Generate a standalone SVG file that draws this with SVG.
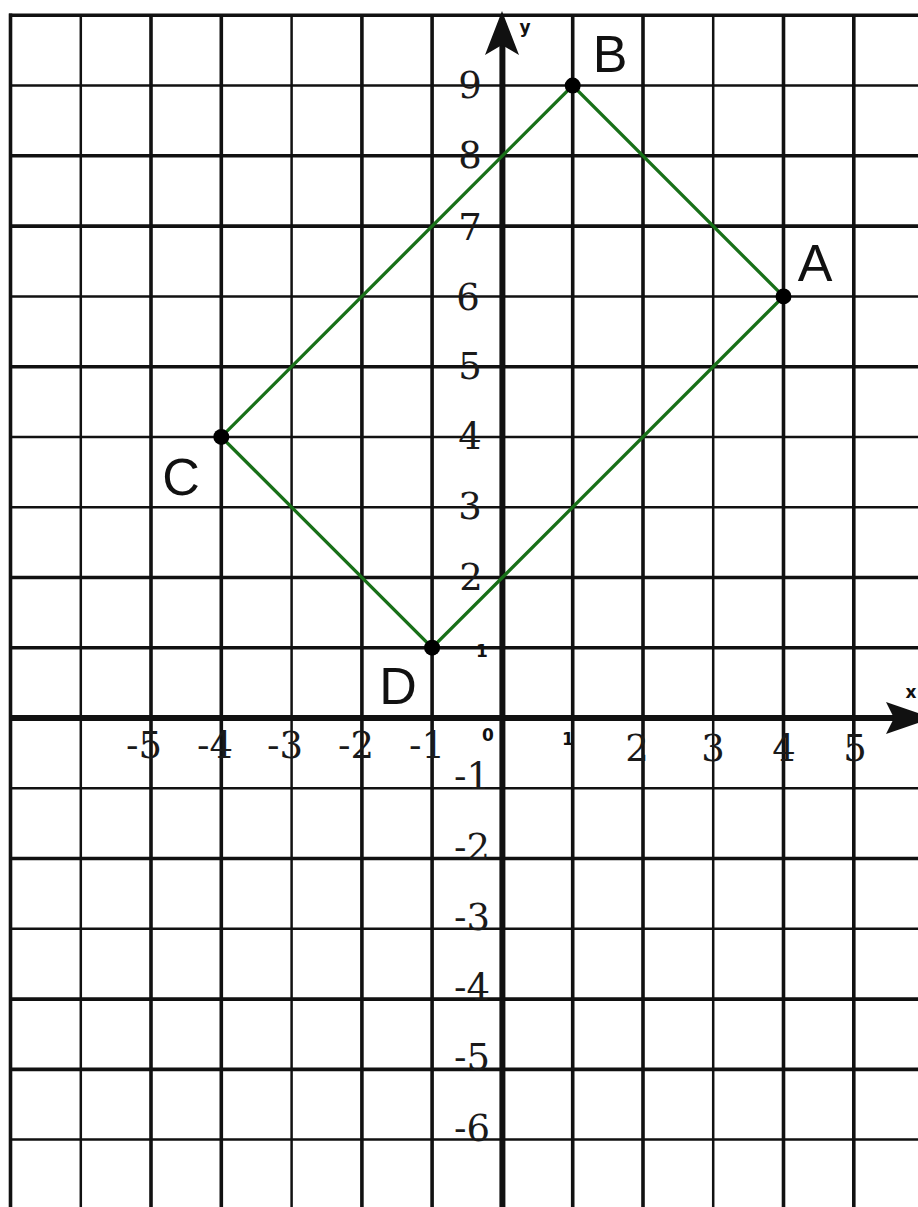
<svg xmlns="http://www.w3.org/2000/svg" width="918" height="1207" viewBox="0 0 918 1207">
<style>
.g{stroke:#111;stroke-width:3.6;fill:none}
.t{stroke:#111;stroke-width:2.5;fill:none}
.ax{stroke:#111;stroke-width:6;fill:none}
.num{font-family:"DejaVu Serif","Liberation Serif",serif;font-size:37px;fill:#1a1a1a}
.sm{font-family:"DejaVu Sans","Liberation Sans",sans-serif;font-size:17px;font-weight:bold;fill:#111}
.pl{font-family:"Liberation Sans","DejaVu Sans",sans-serif;font-size:52px;fill:#111;text-anchor:middle}
.fig{stroke:#187018;stroke-width:3.3;fill:none;stroke-linejoin:miter}
</style>
<rect width="918" height="1207" fill="#fff"/>
<g id="grid">
<line class="g" x1="10.5" y1="13.5" x2="10.5" y2="1207"/>
<line class="t" x1="80.8" y1="15" x2="80.8" y2="1207"/>
<line class="g" x1="151" y1="15" x2="151" y2="1207"/>
<line class="g" x1="221.3" y1="15" x2="221.3" y2="1207"/>
<line class="t" x1="291.6" y1="15" x2="291.6" y2="1207"/>
<line class="g" x1="361.9" y1="15" x2="361.9" y2="1207"/>
<line class="g" x1="432.1" y1="15" x2="432.1" y2="1207"/>
<line class="g" x1="572.7" y1="15" x2="572.7" y2="1207"/>
<line class="g" x1="643" y1="15" x2="643" y2="1207"/>
<line class="t" x1="713.2" y1="15" x2="713.2" y2="1207"/>
<line class="g" x1="783.5" y1="15" x2="783.5" y2="1207"/>
<line class="g" x1="853.8" y1="15" x2="853.8" y2="1207"/>
<line class="g" x1="9" y1="15.3" x2="918" y2="15.3"/>
<line class="t" x1="10" y1="85.6" x2="918" y2="85.6"/>
<line class="g" x1="10" y1="155.8" x2="918" y2="155.8"/>
<line class="g" x1="10" y1="226.1" x2="918" y2="226.1"/>
<line class="t" x1="10" y1="296.4" x2="918" y2="296.4"/>
<line class="g" x1="10" y1="366.7" x2="918" y2="366.7"/>
<line class="t" x1="10" y1="436.9" x2="918" y2="436.9"/>
<line class="t" x1="10" y1="507.2" x2="918" y2="507.2"/>
<line class="g" x1="10" y1="577.5" x2="918" y2="577.5"/>
<line class="g" x1="10" y1="647.7" x2="918" y2="647.7"/>
<line class="t" x1="10" y1="788.3" x2="918" y2="788.3"/>
<line class="g" x1="10" y1="858.5" x2="918" y2="858.5"/>
<line class="t" x1="10" y1="928.8" x2="918" y2="928.8"/>
<line class="g" x1="10" y1="999.1" x2="918" y2="999.1"/>
<line class="g" x1="10" y1="1069.4" x2="918" y2="1069.4"/>
<line class="t" x1="10" y1="1139.6" x2="918" y2="1139.6"/>
</g>
<g id="axes">
<line class="ax" x1="502.4" y1="40" x2="502.4" y2="1207"/>
<line class="ax" x1="10" y1="718" x2="900" y2="718"/>
<polygon points="502,11 519,55 502,45 485,55" fill="#111"/>
<polygon points="933,718 886,702 894,718 886,734" fill="#111"/>
<text class="sm" x="525" y="33" text-anchor="middle" font-size="19">y</text>
<text class="sm" x="911" y="698" text-anchor="middle" font-size="16">x</text>
<text class="sm" x="482" y="657" text-anchor="middle">1</text>
<text class="sm" x="488" y="741" text-anchor="middle" font-size="15">0</text>
<text class="sm" x="568" y="745" text-anchor="middle">1</text>
</g>
<g id="ylabels" class="num" text-anchor="middle">
<text x="470" y="98">9</text>
<text x="470" y="168">8</text>
<text x="470" y="240">7</text>
<text x="468" y="310">6</text>
<text x="470" y="379">5</text>
<text x="470" y="449">4</text>
<text x="470" y="519">3</text>
<text x="471" y="590">2</text>
</g>
<g id="ynlabels" class="num" text-anchor="end">
<text x="490" y="789">-1</text>
<text x="490" y="860">-2</text>
<text x="490" y="930">-3</text>
<text x="490" y="1000">-4</text>
<text x="490" y="1070">-5</text>
<text x="490" y="1141">-6</text>
</g>
<g id="xlabels" class="num" text-anchor="end">
<text x="162" y="758">-5</text>
<text x="233" y="758">-4</text>
<text x="303" y="758">-3</text>
<text x="374" y="758">-2</text>
<text x="445" y="758">-1</text>
</g>
<g id="xplabels" class="num" text-anchor="middle">
<text x="637" y="761">2</text>
<text x="713" y="761">3</text>
<text x="784" y="761">4</text>
<text x="855" y="761">5</text>
</g>
<g id="connectors">
<polygon class="fig" points="783.5,296.4 572.7,85.6 221.3,436.9 432.1,647.7"/>
</g>
<g id="A"><circle cx="783.5" cy="296.4" r="8" fill="#000"/><text class="pl" x="815" y="281">A</text></g>
<g id="B"><circle cx="572.7" cy="85.6" r="8" fill="#000"/><text class="pl" x="610" y="72">B</text></g>
<g id="C"><circle cx="221.3" cy="436.9" r="8" fill="#000"/><text class="pl" x="181" y="495">C</text></g>
<g id="D"><circle cx="432.1" cy="647.7" r="8" fill="#000"/><text class="pl" x="398" y="704">D</text></g>
</svg>
